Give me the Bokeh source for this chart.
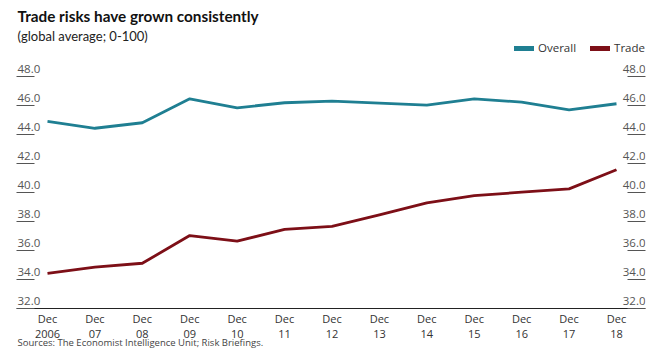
from bokeh.plotting import figure
from bokeh.models import (Range1d, LinearAxis, FixedTicker, Label, Legend, LegendItem,
                          ColumnDataSource, CustomJSTickFormatter)
from bokeh.core.properties import value
from bokeh.embed import file_html
from bokeh.resources import INLINE

# ---------------- data ----------------
years = ["2006", "07", "08", "09", "10", "11", "12", "13", "14", "15", "16", "17", "18"]
tick_labels = ["Dec\n" + y for y in years]
overall = [44.9, 44.43, 44.81, 46.46, 45.84, 46.19, 46.3, 46.16, 46.02, 46.46, 46.23, 45.7, 46.12]
trade = [34.43, 34.85, 35.12, 37.03, 36.64, 37.45, 37.66, 38.45, 39.29, 39.79, 40.02, 40.25, 41.57]
y_ticks = [32, 34, 36, 38, 40, 42, 44, 46, 48]
y_tick_labels = ["32.0", "34.0", "36.0", "38.0", "40.0", "42.0", "44.0", "46.0", "48.0"]

TITLE = "Trade risks have grown consistently"
SUBTITLE = "(global average; 0-100)"
SOURCE = "Sources: The Economist Intelligence Unit; Risk Briefings."

TEAL = "#1f7f92"
RED = "#7d0f17"

# ---------------- geometry (page has no margin: canvas px == screen px) ----------------
W, H = 664, 364
FL, FR, FT, FB = 16, 645, 0, H           # plot frame
X0_PX, X12_PX = 47, 616                  # first / last category position
ppx = (X12_PX - X0_PX) / (len(years) - 1)
x_start = (FL - X0_PX) / ppx
x_end = (FR - X0_PX) / ppx
Y32_PX, Y48_PX = 308, 76
ppy = (Y32_PX - Y48_PX) / 16.0
y_start = 32 - (FB - Y32_PX) / ppy
y_end = 32 + (Y32_PX - FT) / ppy


def dx(px):
    return x_start + (px - FL) / ppx


def dy(py):
    return y_start + (FB - py) / ppy


p = figure(width=W, height=H, output_backend="svg", toolbar_location=None,
           x_range=Range1d(x_start, x_end), y_range=Range1d(y_start, y_end),
           min_border_left=FL, min_border_right=W - FR, min_border_top=FT,
           min_border_bottom=H - FB)
p.outline_line_color = None
p.xgrid.visible = False
p.ygrid.visible = False
p.background_fill_color = "white"
p.border_fill_color = "white"

xs = list(range(len(years)))
src = ColumnDataSource(dict(x=xs, overall=overall, trade=trade))
r_over = p.line("x", "overall", source=src, line_color=TEAL, line_width=2.8, line_join="round")
r_trade = p.line("x", "trade", source=src, line_color=RED, line_width=2.8, line_join="round")

# x axis drawn at the 32.0 baseline
xa = p.xaxis[0]
xa.fixed_location = y_ticks[0]
xa.ticker = FixedTicker(ticks=xs)
xa.major_label_overrides = {i: lab for i, lab in enumerate(tick_labels)}
xa.major_tick_in = 0
xa.major_tick_out = 0
xa.minor_tick_line_color = None
xa.axis_line_color = "#222222"
xa.axis_line_width = 1
xa.major_label_standoff = 2
xa.major_label_text_font = "Open Sans"
xa.major_label_text_font_size = "11px"
xa.major_label_text_line_height = 1.0
xa.major_label_text_color = "#333333"

# y axes: ticks as short underlines inside the frame, labels drawn as text above them
blank = CustomJSTickFormatter(code="return ''")
ya = p.yaxis[0]
ya.ticker = FixedTicker(ticks=y_ticks)
ya.formatter = blank
ya.axis_line_color = None
ya.major_tick_out = 0
ya.major_tick_in = 18
ya.major_tick_line_color = "#555555"
ya.minor_tick_line_color = None
ya.major_label_standoff = 0

ra = LinearAxis(ticker=FixedTicker(ticks=y_ticks), formatter=blank)
ra.axis_line_color = None
ra.major_tick_out = 0
ra.major_tick_in = 18
ra.major_tick_line_color = "#555555"
ra.minor_tick_line_color = None
ra.major_label_standoff = 0
p.add_layout(ra, "right")

lab_src = ColumnDataSource(dict(y=y_ticks, t=y_tick_labels,
                                xl=[dx(17)] * len(y_ticks), xr=[dx(FR)] * len(y_ticks)))
for col, align in (("xl", "left"), ("xr", "right")):
    p.text(x=col, y="y", text="t", source=lab_src, text_align=align, text_baseline="bottom",
           text_font=value("Open Sans"), text_font_size="11.5px", text_color="#555555",
           y_offset=-4)

# titles and source
p.add_layout(Label(x=dx(17), y=dy(15), text=TITLE, text_font="Lato", text_font_style="bold",
                   text_font_size="15.3px", text_color="#111111", text_baseline="middle"))
p.add_layout(Label(x=dx(17), y=dy(35.5), text=SUBTITLE, text_font="Lato",
                   text_font_size="13px", text_color="#222222", text_baseline="middle"))
p.add_layout(Label(x=dx(17), y=dy(341.5), text=SOURCE, text_font="Open Sans",
                   text_font_size="9.5px", text_color="#444444", text_baseline="middle"))

# legend with thick swatches
nan = float("nan")
sw_over = p.line(x=[nan], y=[nan], line_color=TEAL, line_width=5, line_cap="round")
sw_trade = p.line(x=[nan], y=[nan], line_color=RED, line_width=5, line_cap="round")
legend = Legend(items=[LegendItem(label="Overall", renderers=[sw_over]),
                       LegendItem(label="Trade", renderers=[sw_trade])],
                orientation="horizontal", location=(498, H - 55), padding=0, margin=0,
                spacing=14, glyph_width=20, glyph_height=14, label_height=14,
                label_standoff=4, background_fill_alpha=0, border_line_color=None,
                label_text_font="Open Sans", label_text_font_size="11.5px",
                label_text_color="#333333")
p.add_layout(legend)

open("out.html", "w").write(file_html(p, INLINE))
